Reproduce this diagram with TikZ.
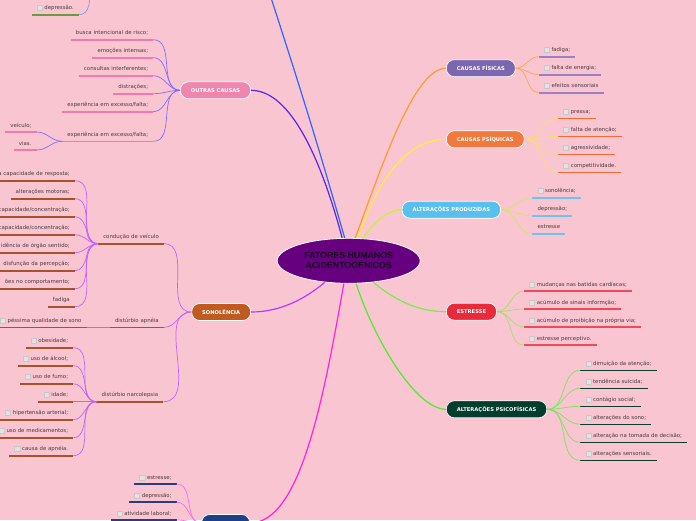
\documentclass[tikz,border=0pt]{standalone}
\usepackage{fontspec}
\setmainfont{DejaVu Sans}
\newfontfamily\rootfont{Liberation Sans}
\usetikzlibrary{
  positioning,
  shapes.geometric
}
\definecolor{bgpink}{HTML}{F9C5D1}
\definecolor{rootfill}{HTML}{67007F}
\definecolor{roottext}{HTML}{14061C}
\definecolor{leaftext}{HTML}{4A3B40}
\definecolor{chkfill}{HTML}{E2E2E2}
\definecolor{chkedge}{HTML}{C8C8C8}
\definecolor{fisfill}{HTML}{7B66B0}
\definecolor{fisul}{HTML}{9C80C4}
\definecolor{fisln}{HTML}{FF9B2B}
\definecolor{fistw}{HTML}{FFAA44}
\definecolor{psifill}{HTML}{F07A3E}
\definecolor{psiul}{HTML}{F26A35}
\definecolor{psiln}{HTML}{FFEE33}
\definecolor{psitw}{HTML}{FFDD66}
\definecolor{prodfill}{HTML}{58C0EC}
\definecolor{produl}{HTML}{6CC4EF}
\definecolor{prodln}{HTML}{C8F038}
\definecolor{prodtw}{HTML}{D6E463}
\definecolor{estfill}{HTML}{E82A3A}
\definecolor{estul}{HTML}{EE4A5C}
\definecolor{estln}{HTML}{77EE44}
\definecolor{esttw}{HTML}{9BE660}
\definecolor{psffill}{HTML}{033D2C}
\definecolor{psful}{HTML}{0D3A2C}
\definecolor{psfln}{HTML}{4CEE2A}
\definecolor{psftw}{HTML}{7AE65A}
\definecolor{outfill}{HTML}{EF86AE}
\definecolor{outul}{HTML}{F07AAE}
\definecolor{outln}{HTML}{5A24EE}
\definecolor{outtw}{HTML}{8A6BFF}
\definecolor{sonofill}{HTML}{BF5A20}
\definecolor{sonoul}{HTML}{A8522B}
\definecolor{sonoln}{HTML}{B03CFF}
\definecolor{sonotw}{HTML}{C164FF}
\definecolor{botfill}{HTML}{1F3F86}
\definecolor{botul}{HTML}{2B3B7E}
\definecolor{botln}{HTML}{FF22DD}
\definecolor{bottw}{HTML}{FF6CEB}
\definecolor{topln}{HTML}{2F66FF}
\definecolor{depul}{HTML}{6D9A3C}
\definecolor{deptw}{HTML}{8B95FF}
\setlength{\fboxsep}{0pt}
\setlength{\fboxrule}{0.5pt}
\newcommand{\chk}{\raisebox{-0.4pt}{\fcolorbox{chkedge}{chkfill}{\makebox[4.6pt]{\rule{0pt}{4.6pt}}}}\hspace{2pt}}

\begin{document}
\begin{tikzpicture}[
      x=1pt, y=-1pt,
      root/.style={
        ellipse, minimum width=143pt, minimum height=45pt, inner sep=0pt,
        fill=rootfill, draw=white, line width=0.8pt, align=center,
        font=\rootfont\bfseries\fontsize{8.8}{10}\selectfont, text=roottext
      },
      branchbox/.style={
        rectangle, rounded corners=8pt,
        minimum height=17pt, inner xsep=10.5pt,
        draw=white, line width=0.7pt,
        font=\bfseries\fontsize{5.2}{6}\selectfont, text=white
      },
      leaf/.style={
        font=\fontsize{5.4}{6.4}\selectfont, text=leaftext,
        inner xsep=5pt, inner ysep=3.3pt, text height=4pt, text depth=1.3pt,
        append after command={(\tikzlastnode.south west) edge[draw=#1, line width=1.6pt] (\tikzlastnode.south east)}
      },
      cut/.style={text width=90pt, align=right},
      mainln/.style={line width=1.2pt},
      twig/.style={line width=0.7pt}
    ]
      \fill[bgpink] (0,0) rectangle (696,520);
      \useasboundingbox (0,0) rectangle (696,520);

      % Centre
      \node[root] (root) at (348.7,260.8) {FATORES HUMANOS\\ACIDENTOGÊNICOS};

      % Right branches
      \node[branchbox, fill=fisfill, anchor=west] (fis) at (446,68.2) {CAUSAS FÍSICAS};
      \node[branchbox, fill=psifill, anchor=west] (psi) at (446,139.3) {CAUSAS PSÍQUICAS};
      \node[branchbox, fill=prodfill, anchor=west] (prod) at (401.7,209.7) {ALTERAÇÕES PRODUZIDAS};
      \node[branchbox, fill=estfill, anchor=west] (est) at (446,311.7) {ESTRESSE};
      \node[branchbox, fill=psffill, anchor=west] (psf) at (446,409.3) {ALTERAÇÕES PSICOFÍSICAS};

      % Left branches
      \node[branchbox, fill=outfill, anchor=east] (outras) at (251,90.3) {OUTRAS CAUSAS};
      \node[branchbox, fill=sonofill, anchor=east] (sono) at (251,312) {SONOLÊNCIA};
      \node[branchbox, fill=botfill, anchor=east, minimum width=48pt] (bot) at (250,523) {};
      \coordinate (topbr) at (262,-30);
      \coordinate (deptop) at (90,-12);

      % Causas fisicas
      \node[leaf=fisul, anchor=south west] (f1) at (538.7,56.7) {\chk fadiga;};
      \node[leaf=fisul, anchor=south west] (f2) at (538.7,74.7) {\chk falta de energia;};
      \node[leaf=fisul, anchor=south west] (f3) at (538.7,92.7) {\chk efeitos sensoriais};

      % Causas psiquicas
      \node[leaf=psiul, anchor=south west] (p1) at (558,118.3) {\chk pressa;};
      \node[leaf=psiul, anchor=south west] (p2) at (558,136.3) {\chk falta de atenção;};
      \node[leaf=psiul, anchor=south west] (p3) at (558,154.3) {\chk agressividade;};
      \node[leaf=psiul, anchor=south west] (p4) at (558,172.3) {\chk competitividade.};

      % Alteracoes produzidas
      \node[leaf=produl, anchor=south west] (a1) at (532.3,197.7) {\chk sonolência;};
      \node[leaf=produl, anchor=south west] (a2) at (532.3,215.7) {depressão;};
      \node[leaf=produl, anchor=south west] (a3) at (532.3,233.7) {estresse};

      % Estresse
      \node[leaf=estul, anchor=south west] (e1) at (524,291) {\chk mudanças nas batidas cardíacas;};
      \node[leaf=estul, anchor=south west] (e2) at (524,309) {\chk acúmulo de sinais informção;};
      \node[leaf=estul, anchor=south west] (e3) at (524,327) {\chk acúmulo de proibição na própria via;};
      \node[leaf=estul, anchor=south west] (e4) at (524,345) {\chk estresse perceptivo.};

      % Alteracoes psicofisicas
      \node[leaf=psful, anchor=south west] (s1) at (580.3,370.3) {\chk dimuição da atenção;};
      \node[leaf=psful, anchor=south west] (s2) at (580.3,388.3) {\chk tendência suicida;};
      \node[leaf=psful, anchor=south west] (s3) at (580.3,406.3) {\chk contágio social;};
      \node[leaf=psful, anchor=south west] (s4) at (580.3,424.3) {\chk alterações do sono;};
      \node[leaf=psful, anchor=south west] (s5) at (580.3,442.3) {\chk alteração na tomada de decisão;};
      \node[leaf=psful, anchor=south west] (s6) at (580.3,460.3) {\chk alterações sensoriais.};

      % Top (hidden branch)
      \node[leaf=depul, anchor=south east] (dep) at (79,14.7) {\chk depressão.};

      % Outras causas
      \node[leaf=outul, anchor=south east] (o1) at (153.3,39.7) {busca intencional de risco;};
      \node[leaf=outul, anchor=south east] (o2) at (153.3,57.7) {emoções intensas;};
      \node[leaf=outul, anchor=south east] (o3) at (153.3,75.7) {consultas interferentes;};
      \node[leaf=outul, anchor=south east] (o4) at (153.3,93.7) {distrações;};
      \node[leaf=outul, anchor=south east] (o5) at (153.3,111.7) {experiência em excesso/falta;};
      \node[leaf=outul, anchor=south east] (o6) at (153.3,141.3) {experiência em excesso/falta;};
      \node[leaf=outul, anchor=south east] (ov1) at (36.7,132) {veículo;};
      \node[leaf=outul, anchor=south east] (ov2) at (36.7,150) {vias.};

      % Sonolencia
      \node[leaf=sonoul, anchor=south east] (cond) at (164,243.7) {condução de veículo};
      \node[leaf=sonoul, anchor=south east] (apn) at (164,327.3) {distúrbio apnéia};
      \node[leaf=sonoul, anchor=south east] (narc) at (163.3,401.7) {distúrbio narcolepsia};
      \node[leaf=sonoul, cut, anchor=south east] (c1) at (75,180.7) {a capacidade de resposta;};
      \node[leaf=sonoul, anchor=south east] (c2) at (75,198.7) {alterações motoras;};
      \node[leaf=sonoul, cut, anchor=south east] (c3) at (75,216.7) {capacidade/concentração;};
      \node[leaf=sonoul, cut, anchor=south east] (c4) at (75,234.7) {capacidade/concentração;};
      \node[leaf=sonoul, cut, anchor=south east] (c5) at (75,252.7) {idência de órgão sentido;};
      \node[leaf=sonoul, cut, anchor=south east] (c6) at (75,270.7) {disfunção da percepção;};
      \node[leaf=sonoul, cut, anchor=south east] (c7) at (75,288.7) {ões no comportamento;};
      \node[leaf=sonoul, anchor=south east] (c8) at (75,306.7) {fadiga};
      \node[leaf=sonoul, anchor=south east] (ap1) at (86.7,327.3) {\chk péssima qualidade de sono};
      \node[leaf=sonoul, anchor=south east] (n1) at (73.3,347.7) {\chk obesidade;};
      \node[leaf=sonoul, anchor=south east] (n2) at (73.3,365.7) {\chk uso de álcool;};
      \node[leaf=sonoul, anchor=south east] (n3) at (73.3,383.7) {\chk uso de fumo;};
      \node[leaf=sonoul, anchor=south east] (n4) at (73.3,401.7) {\chk idade;};
      \node[leaf=sonoul, anchor=south east] (n5) at (73.3,419.7) {\chk hipertensão arterial;};
      \node[leaf=sonoul, anchor=south east] (n6) at (73.3,437.7) {\chk uso de medicamentos;};
      \node[leaf=sonoul, anchor=south east] (n7) at (73.3,455.7) {\chk causa de apnéia.};

      % Bottom branch
      \node[leaf=botul, anchor=south east] (b1) at (176.7,484) {\chk estresse;};
      \node[leaf=botul, anchor=south east] (b2) at (176.7,502) {\chk depressão;};
      \node[leaf=botul, anchor=south east] (b3) at (176.7,520) {\chk atividade laboral;};

      % Main lines
      \draw[mainln, topln] (root.100) to[out=106, in=-72] (topbr);
      \draw[mainln, outln] (root.106) to[out=105, in=0, out distance=80pt, in distance=40pt] (outras.east);
      \draw[mainln, fisln] (root.74) to[out=70, in=180, out distance=90pt, in distance=30pt] (fis.west);
      \draw[mainln, psiln] (root.67) to[out=72, in=180, out distance=60pt, in distance=40pt] (psi.west);
      \draw[mainln, prodln] (root.57) to[out=60, in=180, out distance=15pt, in distance=15pt] (prod.west);
      \draw[mainln, estln] (root.-41) to[out=-40, in=180, out distance=25pt, in distance=30pt] (est.west);
      \draw[mainln, psfln] (root.-72) to[out=-72, in=180, out distance=60pt, in distance=30pt] (psf.west);
      \draw[mainln, sonoln] (root.-138) to[out=-140, in=0, out distance=25pt, in distance=30pt] (sono.east);
      \draw[mainln, botln] (root.-102) to[out=-100, in=0, out distance=120pt, in distance=50pt] (bot.east);

      % Twigs right
      \draw[twig, fistw] (fis.east) to[out=0, in=180] (f1.south west);
      \draw[twig, fistw] (fis.east) to[out=0, in=180] (f2.south west);
      \draw[twig, fistw] (fis.east) to[out=0, in=180] (f3.south west);
      \draw[twig, psitw] (psi.east) to[out=0, in=180] (p1.south west);
      \draw[twig, psitw] (psi.east) to[out=0, in=180] (p2.south west);
      \draw[twig, psitw] (psi.east) to[out=0, in=180] (p3.south west);
      \draw[twig, psitw] (psi.east) to[out=0, in=180] (p4.south west);
      \draw[twig, prodtw] (prod.east) to[out=0, in=180] (a1.south west);
      \draw[twig, prodtw] (prod.east) to[out=0, in=180] (a2.south west);
      \draw[twig, prodtw] (prod.east) to[out=0, in=180] (a3.south west);
      \draw[twig, esttw] (est.east) to[out=0, in=180] (e1.south west);
      \draw[twig, esttw] (est.east) to[out=0, in=180] (e2.south west);
      \draw[twig, esttw] (est.east) to[out=0, in=180] (e3.south west);
      \draw[twig, esttw] (est.east) to[out=0, in=180] (e4.south west);
      \draw[twig, psftw] (psf.east) to[out=0, in=180] (s1.south west);
      \draw[twig, psftw] (psf.east) to[out=0, in=180] (s2.south west);
      \draw[twig, psftw] (psf.east) to[out=0, in=180] (s3.south west);
      \draw[twig, psftw] (psf.east) to[out=0, in=180] (s4.south west);
      \draw[twig, psftw] (psf.east) to[out=0, in=180] (s5.south west);
      \draw[twig, psftw] (psf.east) to[out=0, in=180] (s6.south west);

      % Twigs left
      \draw[twig, deptw] (dep.south east) to[out=0, in=-90] (deptop);
      \draw[twig, outtw] (outras.west) to[out=180, in=0] (o1.south east);
      \draw[twig, outtw] (outras.west) to[out=180, in=0] (o2.south east);
      \draw[twig, outtw] (outras.west) to[out=180, in=0] (o3.south east);
      \draw[twig, outtw] (outras.west) to[out=180, in=0] (o4.south east);
      \draw[twig, outtw] (outras.west) to[out=180, in=0] (o5.south east);
      \draw[twig, outtw] (outras.west) to[out=180, in=0] (o6.south east);
      \draw[twig, outtw] (o6.south west) to[out=180, in=0] (ov1.south east);
      \draw[twig, outtw] (o6.south west) to[out=180, in=0] (ov2.south east);
      \draw[twig, sonotw] (sono.west) to[out=180, in=0] (cond.south east);
      \draw[twig, sonotw] (sono.west) to[out=180, in=0] (apn.south east);
      \draw[twig, sonotw] (sono.west) to[out=180, in=0] (narc.south east);
      \draw[twig, sonotw] (cond.south west) to[out=180, in=0] (c1.south east);
      \draw[twig, sonotw] (cond.south west) to[out=180, in=0] (c2.south east);
      \draw[twig, sonotw] (cond.south west) to[out=180, in=0] (c3.south east);
      \draw[twig, sonotw] (cond.south west) to[out=180, in=0] (c4.south east);
      \draw[twig, sonotw] (cond.south west) to[out=180, in=0] (c5.south east);
      \draw[twig, sonotw] (cond.south west) to[out=180, in=0] (c6.south east);
      \draw[twig, sonotw] (cond.south west) to[out=180, in=0] (c7.south east);
      \draw[twig, sonotw] (cond.south west) to[out=180, in=0] (c8.south east);
      \draw[twig, sonotw] (apn.south west) to[out=180, in=0] (ap1.south east);
      \draw[twig, sonotw] (narc.south west) to[out=180, in=0] (n1.south east);
      \draw[twig, sonotw] (narc.south west) to[out=180, in=0] (n2.south east);
      \draw[twig, sonotw] (narc.south west) to[out=180, in=0] (n3.south east);
      \draw[twig, sonotw] (narc.south west) to[out=180, in=0] (n4.south east);
      \draw[twig, sonotw] (narc.south west) to[out=180, in=0] (n5.south east);
      \draw[twig, sonotw] (narc.south west) to[out=180, in=0] (n6.south east);
      \draw[twig, sonotw] (narc.south west) to[out=180, in=0] (n7.south east);
      \draw[twig, bottw] (bot.west) to[out=180, in=0] (b1.south east);
      \draw[twig, bottw] (bot.west) to[out=180, in=0] (b2.south east);
      \draw[twig, bottw] (bot.west) to[out=180, in=0] (b3.south east);
    \end{tikzpicture}
\end{document}
